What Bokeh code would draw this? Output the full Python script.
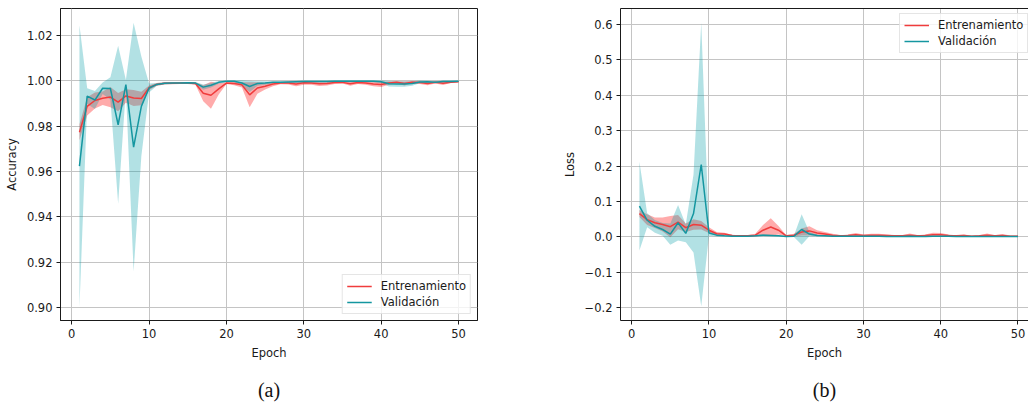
import numpy as np
from bokeh.plotting import figure
from bokeh.models import (Range1d, FixedTicker, Legend, LegendItem, Title, LinearAxis,
                          CustomJSTickFormatter)
from bokeh.layouts import row
from bokeh.embed import file_html
from bokeh.resources import INLINE

# ---------------- data ----------------
epochs = list(range(1, 51))

acc_train_mean = [0.9773, 0.9887, 0.9913, 0.9923, 0.9928, 0.9906, 0.9933, 0.9924, 0.9922, 0.9969,
                  0.9984, 0.9989, 0.9989, 0.9990, 0.9990, 0.9988, 0.9945, 0.9936, 0.9964, 0.9990,
                  0.9988, 0.9982, 0.9938, 0.9968, 0.9976, 0.9986, 0.9990, 0.9990, 0.9986, 0.9991,
                  0.9990, 0.9987, 0.9988, 0.9992, 0.9993, 0.9987, 0.9992, 0.9990, 0.9986, 0.9984,
                  0.9990, 0.9993, 0.9988, 0.9994, 0.9992, 0.9988, 0.9993, 0.9989, 0.9994, 0.9996]
acc_train_std = [0.0035, 0.0040, 0.0035, 0.0030, 0.0045, 0.0040, 0.0030, 0.0035, 0.0030, 0.0010,
                 0.0006, 0.0005, 0.0004, 0.0004, 0.0004, 0.0006, 0.0035, 0.0060, 0.0025, 0.0004,
                 0.0008, 0.0012, 0.0055, 0.0025, 0.0015, 0.0010, 0.0005, 0.0006, 0.0010, 0.0008,
                 0.0007, 0.0010, 0.0009, 0.0006, 0.0005, 0.0009, 0.0006, 0.0007, 0.0010, 0.0012,
                 0.0007, 0.0005, 0.0009, 0.0005, 0.0006, 0.0008, 0.0005, 0.0008, 0.0004, 0.0003]
acc_val_mean = [0.9623, 0.9932, 0.9915, 0.9967, 0.9966, 0.9806, 0.9983, 0.9707, 0.9887, 0.9968,
                0.9984, 0.9989, 0.9990, 0.9990, 0.9991, 0.9990, 0.9972, 0.9980, 0.9993, 0.9998,
                0.9998, 0.9990, 0.9975, 0.9988, 0.9990, 0.9993, 0.9994, 0.9995, 0.9996, 0.9997,
                0.9997, 0.9997, 0.9997, 0.9998, 0.9998, 0.9998, 0.9998, 0.9998, 0.9998, 0.9996,
                0.9987, 0.9986, 0.9986, 0.9988, 0.9995, 0.9996, 0.9994, 0.9997, 0.9997, 0.9998]
acc_val_std = [0.0622, 0.0035, 0.0040, 0.0025, 0.0050, 0.0349, 0.0020, 0.0549, 0.0220, 0.0020,
               0.0006, 0.0005, 0.0004, 0.0004, 0.0004, 0.0005, 0.0012, 0.0010, 0.0006, 0.0003,
               0.0004, 0.0012, 0.0025, 0.0010, 0.0008, 0.0004, 0.0004, 0.0004, 0.0004, 0.0004,
               0.0004, 0.0004, 0.0004, 0.0004, 0.0004, 0.0004, 0.0004, 0.0004, 0.0004, 0.0005,
               0.0012, 0.0012, 0.0012, 0.0010, 0.0006, 0.0004, 0.0004, 0.0004, 0.0004, 0.0003]

loss_train_mean = [0.066, 0.049, 0.040, 0.035, 0.029, 0.042, 0.026, 0.035, 0.033, 0.019,
                   0.009, 0.008, 0.004, 0.003, 0.003, 0.005, 0.019, 0.028, 0.019, 0.003,
                   0.005, 0.014, 0.017, 0.011, 0.008, 0.005, 0.003, 0.004, 0.006, 0.004,
                   0.005, 0.005, 0.004, 0.003, 0.003, 0.005, 0.003, 0.004, 0.006, 0.006,
                   0.004, 0.003, 0.004, 0.002, 0.003, 0.005, 0.003, 0.004, 0.002, 0.002]
loss_train_std = [0.010, 0.015, 0.015, 0.020, 0.030, 0.020, 0.012, 0.015, 0.012, 0.008,
                  0.005, 0.004, 0.002, 0.002, 0.002, 0.004, 0.015, 0.025, 0.012, 0.002,
                  0.004, 0.010, 0.013, 0.008, 0.006, 0.004, 0.002, 0.003, 0.005, 0.003,
                  0.004, 0.004, 0.003, 0.002, 0.002, 0.005, 0.002, 0.003, 0.006, 0.005,
                  0.003, 0.002, 0.003, 0.002, 0.002, 0.005, 0.002, 0.004, 0.002, 0.002]
loss_val_mean = [0.087, 0.047, 0.030, 0.021, 0.008, 0.040, 0.010, 0.066, 0.2045, 0.011,
                 0.005, 0.003, 0.002, 0.002, 0.002, 0.003, 0.005, 0.004, 0.003, 0.001,
                 0.002, 0.021, 0.008, 0.004, 0.003, 0.002, 0.002, 0.002, 0.002, 0.002,
                 0.002, 0.002, 0.001, 0.001, 0.001, 0.002, 0.001, 0.001, 0.002, 0.002,
                 0.002, 0.001, 0.001, 0.001, 0.001, 0.001, 0.001, 0.001, 0.001, 0.001]
loss_val_std = [0.125, 0.020, 0.018, 0.018, 0.030, 0.050, 0.025, 0.110, 0.400, 0.008,
                0.004, 0.002, 0.001, 0.001, 0.001, 0.002, 0.003, 0.002, 0.002, 0.001,
                0.002, 0.043, 0.006, 0.003, 0.002, 0.001, 0.001, 0.001, 0.001, 0.001,
                0.001, 0.001, 0.001, 0.001, 0.001, 0.001, 0.001, 0.001, 0.001, 0.001,
                0.001, 0.001, 0.001, 0.001, 0.001, 0.001, 0.001, 0.001, 0.001, 0.001]

x_ticks = [0, 10, 20, 30, 40, 50]
acc_ticks = [0.90, 0.92, 0.94, 0.96, 0.98, 1.00, 1.02]
loss_ticks = [-0.2, -0.1, 0.0, 0.1, 0.2, 0.3, 0.4, 0.5, 0.6]
series_labels = ["Entrenamiento", "Validación"]
x_label = "Epoch"
y_labels = ["Accuracy", "Loss"]
captions = ["(a)", "(b)"]

# ---------------- style ----------------
RED_LINE = "#f03c3c"
RED_FILL = "#ff0000"
TEAL_LINE = "#1496a0"
TEAL_FILL = "#009ca6"
FONT = "DejaVu Sans"
FS = "11.5px"
INK = "#1a1a1a"
GRID = "#c4c4c4"


def build(ylabel, yticks, yfmt, yrange, xrange, train_m, train_s, val_m, val_s,
          width, bl, br, caption, legend_loc, outline):
    p = figure(width=width, height=414, output_backend="svg", toolbar_location=None,
               title=None, x_range=Range1d(*xrange), y_range=Range1d(*yrange),
               min_border_left=bl, min_border_right=br, min_border_top=8,
               min_border_bottom=94, background_fill_color="white",
               border_fill_color="white")
    tm = np.array(train_m); ts = np.array(train_s)
    vm = np.array(val_m); vs = np.array(val_s)
    p.varea(x=epochs, y1=tm - ts, y2=tm + ts, fill_color=RED_FILL, fill_alpha=0.33)
    p.varea(x=epochs, y1=vm - vs, y2=vm + vs, fill_color=TEAL_FILL, fill_alpha=0.30)
    r_tr = p.line(epochs, train_m, line_color=RED_LINE, line_width=1.5)
    r_va = p.line(epochs, val_m, line_color=TEAL_LINE, line_width=1.5)

    xt = FixedTicker(ticks=x_ticks)
    yt = FixedTicker(ticks=yticks)
    p.xaxis.ticker = xt
    p.yaxis.ticker = yt
    p.xgrid.ticker = xt
    p.ygrid.ticker = yt
    p.yaxis.formatter = CustomJSTickFormatter(code=yfmt)
    p.xaxis.axis_label = x_label
    p.yaxis.axis_label = ylabel
    for ax in (p.xaxis, p.yaxis):
        ax.axis_label_text_font = FONT
        ax.axis_label_text_font_size = FS
        ax.axis_label_text_font_style = "normal"
        ax.axis_label_text_color = INK
        ax.major_label_text_font = FONT
        ax.major_label_text_font_size = FS
        ax.major_label_text_color = INK
        ax.axis_line_color = INK
        ax.axis_line_width = 1
        ax.major_tick_line_color = INK
        ax.major_tick_out = 4
        ax.major_tick_in = 0
        ax.minor_tick_line_color = None
        ax.major_label_standoff = 4
        ax.axis_label_standoff = 5
    for g in (p.xgrid, p.ygrid):
        g.grid_line_color = GRID
        g.grid_line_width = 1
    if outline:
        p.outline_line_color = INK
        p.outline_line_width = 1
    else:
        p.outline_line_color = None
        top = LinearAxis(ticker=FixedTicker(ticks=[]), major_label_text_font_size="0px",
                         major_tick_line_color=None, minor_tick_line_color=None,
                         axis_line_color=INK, major_label_standoff=0)
        p.add_layout(top, "above")

    legend = Legend(items=[LegendItem(label=series_labels[0], renderers=[r_tr]),
                           LegendItem(label=series_labels[1], renderers=[r_va])],
                    location=legend_loc, label_text_font=FONT, label_text_font_size=FS,
                    label_text_color=INK, glyph_width=25, glyph_height=14, label_height=14,
                    spacing=2, padding=4, label_standoff=9, margin=6,
                    border_line_color="#cccccc", border_line_width=1,
                    background_fill_color="white", background_fill_alpha=0.8)
    p.add_layout(legend)

    p.add_layout(Title(text=caption, align="center", text_font="Liberation Serif",
                       text_font_size="20px", text_font_style="normal",
                       text_color="#111111", standoff=28), "below")
    return p


p1 = build(y_labels[0], acc_ticks, "return tick.toFixed(2);", (0.8942, 1.0319), (-1.45, 52.45),
           acc_train_mean, acc_train_std, acc_val_mean, acc_val_std,
           540, 60, 63, captions[0], "bottom_right", True)
p2 = build(y_labels[1], loss_ticks, "return tick.toFixed(1).replace('-', '\u2212');",
           (-0.236, 0.645), (-1.45, 51.36),
           loss_train_mean, loss_train_std, loss_val_mean, loss_val_std,
           488, 80, 0, captions[1], (279, 267), False)

layout = row(p1, p2)
open("out.html", "w", encoding="utf-8").write(file_html(layout, INLINE))
